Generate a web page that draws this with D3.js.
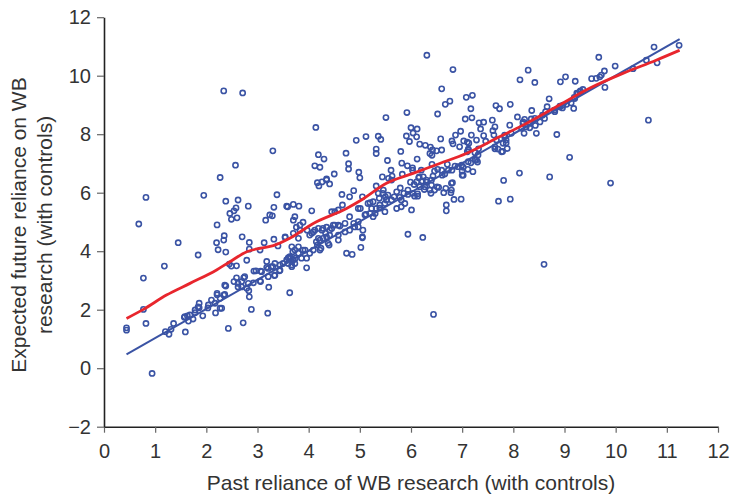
<!DOCTYPE html>
<html lang="en">
<head>
    <meta charset="UTF-8">
    <title>Past vs expected reliance on WB research</title>
    <script src="https://d3js.org/d3.v7.min.js"></script>
    <style>
        body { margin: 0; background: #fff; }
        .tick text { font-family: "Liberation Sans", Arial, sans-serif; font-size: 20px; fill: #333; }
        .axis-title { font-family: "Liberation Sans", Arial, sans-serif; font-size: 21px; fill: #333; }
    </style>
</head>
<body>
<script>
    // scatter points: [past reliance, expected future reliance]
    const points = [
        [0.44,1.38],[0.44,1.30],[0.82,5.84],[0.68,4.93],[0.77,3.08],[0.77,2.01],[0.82,1.53],[0.94,-0.18],[1.45,4.29],[1.18,3.49],
        [1.20,1.25],[1.27,1.16],[1.31,1.33],[1.36,1.53],[1.59,1.24],[1.57,1.74],[1.63,1.79],[1.65,1.61],[1.74,1.68],[1.78,1.90],
        [1.84,3.87],[1.86,2.22],[1.86,2.07],[1.93,1.79],[1.95,5.91],[2.03,2.06],[2.18,1.89],[2.21,2.51],[2.21,4.90],[2.20,4.29],
        [2.23,4.05],[2.30,2.05],[2.34,4.38],[2.35,4.53],[2.36,2.52],[2.38,2.81],[2.38,5.71],[2.38,3.97],[2.43,1.36],[2.45,3.56],
        [2.46,5.29],[2.49,5.09],[2.54,5.38],[2.58,5.48],[2.60,5.14],[2.62,5.75],[2.59,3.50],[2.59,3.09],[2.54,2.96],[2.62,2.90],
        [2.70,4.49],[2.72,1.55],[2.73,3.09],[2.69,2.78],[2.79,3.69],[2.82,5.54],[2.83,2.65],[2.84,2.44],[2.84,4.30],[2.84,4.07],
        [2.88,2.01],[2.92,2.92],[2.93,3.32],[3.06,3.32],[3.06,2.96],[3.05,4.04],[3.13,4.29],[3.16,5.06],[3.18,3.65],[3.18,3.45],
        [3.20,1.88],[3.22,2.77],[3.24,5.24],[3.29,5.21],[3.30,3.47],[3.32,5.50],[3.33,3.17],[3.32,4.41],[3.38,5.93],[3.40,4.18],
        [3.43,3.33],[3.54,4.47],[3.59,5.52],[3.60,3.77],[3.63,2.58],
        [2.34,9.48],[2.71,9.41],[3.30,7.43],[2.57,6.94],[2.27,6.52],
        [4.14,8.23],[4.19,7.30],[4.30,7.15],[4.12,6.92],[4.22,6.87],[4.50,6.64],[4.35,6.47],[4.73,7.35],[4.78,6.99],[4.78,6.81],
        [4.93,7.79],[5.12,7.92],[5.36,7.93],[5.32,7.49],[5.32,7.34],[4.98,6.70],[5.00,6.51],
        [6.31,10.70],[6.82,10.21],[6.60,9.55],[6.67,9.02],[6.76,9.13],[7.08,9.26],[7.20,9.33],[7.17,8.87],[6.52,8.69],[7.06,8.52],
        [7.19,8.56],[7.66,8.98],[7.33,8.39],[7.42,8.41],[7.59,8.48],[7.36,8.18],[7.64,8.25],[5.51,8.57],[5.92,8.74],[5.41,7.82],
        [6.00,8.22],[6.12,8.18],[6.04,8.04],[5.91,7.94],[6.11,7.91],[5.97,7.75],[6.17,7.66],[6.28,7.62],[6.38,7.56],[6.50,7.43],
        [6.60,7.46],[6.41,7.28],[6.58,7.84],[6.80,7.77],[6.87,7.97],[6.97,8.10],[6.82,7.67],[7.03,7.77],[7.10,7.73],[7.18,7.97],
        [7.12,7.49],[7.32,7.50],[7.30,7.05],[7.42,7.95],[7.46,7.76],[6.12,7.15],[4.17,6.34],[4.26,6.37],[4.35,6.43],[4.41,6.30],
        [4.20,6.23],[5.54,7.10],[5.80,7.41],[5.82,7.01],[5.93,6.92],[6.03,6.85],[5.83,6.63],[5.61,6.77],[5.63,6.57],[5.44,6.54],
        [5.56,6.49],[5.32,6.23],[5.79,6.16],[5.99,6.36],[6.06,6.28],[6.15,6.51],[6.22,6.40],[6.30,6.36],[6.40,6.43],[6.46,6.74],
        [6.52,6.80],[6.41,6.97],[6.61,6.60],[6.71,6.97],[6.80,6.77],[6.92,6.89],[6.81,6.34],[7.00,6.74],[6.64,6.00],[6.78,6.00],
        [6.39,5.98],[6.26,6.11],[6.13,5.96],[5.94,5.94],[5.67,5.86],[5.50,5.86],[4.88,6.07],[4.65,5.94],[7.21,6.72],
        [3.44,3.35],[3.57,5.54],[3.70,5.60],[3.81,5.54],[3.73,5.18],[3.70,5.06],[3.89,4.99],[3.83,4.89],[4.06,5.38],[3.54,4.49],
        [3.70,4.61],[3.80,4.44],[3.67,4.15],[3.80,4.15],[3.89,4.04],[3.69,3.98],[3.63,3.76],[3.60,3.58],[3.73,3.58],[3.67,3.47],
        [3.96,3.43],[4.06,4.61],[4.12,4.72],[4.15,4.32],[4.19,4.44],[4.22,4.04],[4.28,4.78],[4.40,4.21],[4.41,4.55],[4.48,4.89],
        [4.58,4.38],[4.58,4.89],[4.74,3.93],[4.85,3.89],[4.71,4.95],[4.80,4.72],[4.88,4.95],[4.97,4.83],[5.02,4.13],[5.05,4.46],
        [4.97,5.46],[5.12,5.26],[5.20,5.66],[5.30,5.29],[5.39,5.47],[5.49,5.35],[5.52,5.75],[5.45,5.98],[5.72,5.46],[5.81,5.52],
        [5.78,5.84],[5.86,5.98],[5.94,4.58],[6.01,5.41],[6.07,5.88],[6.23,4.47],[6.44,1.84],[6.54,6.18],[6.69,5.58],[6.69,5.38],
        [6.79,6.32],[6.84,5.77],[6.98,5.78],[7.71,5.71],
        [9.67,10.63],[10.75,10.98],[11.24,11.04],[10.60,10.53],[10.81,10.44],[9.99,10.33],[10.34,10.24],[9.78,10.16],[9.53,9.90],[9.69,9.96],
        [8.29,10.19],[8.13,9.86],[8.42,9.77],[8.92,9.79],[9.02,9.96],[9.21,9.81],[8.70,9.21],[9.24,9.40],[9.30,9.45],[9.36,9.53],
        [9.19,9.26],[9.79,9.60],[7.73,8.87],[7.94,9.02],[8.36,8.81],[8.66,8.94],[8.63,8.77],[8.91,8.93],[8.96,8.90],[9.18,8.88],
        [8.81,8.77],[8.08,8.59],[8.22,8.51],[8.35,8.52],[8.19,8.37],[8.25,8.25],[8.32,8.22],[7.93,8.31],[8.43,8.30],[7.60,8.12],
        [7.62,7.97],[7.83,7.97],[8.21,8.03],[8.45,8.03],[8.85,7.99],[7.86,7.70],[7.64,7.50],[7.79,7.41],[7.88,7.51],[9.10,7.21],
        [10.64,8.48],[8.12,6.67],[8.71,6.54],[7.81,6.42],[9.90,6.33],[7.94,5.78],[8.60,3.55],
        [9.62,9.91],[9.72,10.02],[8.19,8.42],[8.32,8.37],[8.42,8.54],[8.16,8.20],[8.52,8.42],[8.61,8.54],[8.57,8.65],[8.80,8.82],
        [8.91,8.96],[8.97,8.99],[9.04,9.02],[9.13,9.07],[9.20,9.22],[9.26,9.39],[9.31,9.48],
        [6.95,7.57],[7.12,7.46],[7.25,7.37],[7.31,7.29],[7.67,7.80],[7.64,7.57],[7.70,7.49],[7.77,7.40],[7.80,7.69],[7.86,7.80],
        [7.83,7.91],[7.96,8.03],[6.99,6.94],[7.02,6.60],[7.12,7.06],[7.25,7.12],
        [6.42,7.46],[6.37,7.34],[7.13,7.69],[7.28,7.80],[7.10,7.40],[7.28,7.12],
        [6.03,6.77],[6.20,6.77],[6.16,6.54],[6.24,6.54],[6.30,6.43],[6.43,6.57],[6.60,6.77],[6.66,6.64],[6.73,6.77],[6.86,6.91],
        [7.02,6.87],[7.00,6.60],[7.11,6.80],[7.17,7.02],
        [6.11,6.37],[6.17,6.20],[6.27,6.20],[6.40,6.26],[6.46,6.09],[6.51,6.20],[6.68,6.15],[6.79,6.09],[6.37,6.09],
        [5.94,6.09],[6.03,5.98],[6.13,5.88],[5.81,5.75],[5.88,5.63],[5.72,6.03],
        [5.62,6.43],[5.46,6.09],[5.36,5.98],[5.55,5.92],[5.62,5.75],[5.49,5.63],[5.38,5.81],[5.26,5.69],[5.23,5.46],[5.39,5.58],
        [5.05,5.86],[5.01,5.46],[5.16,5.63],[5.10,5.24],[5.20,5.29],[5.32,5.46],[5.26,5.18],
        [4.80,5.86],[4.66,5.58],[4.97,5.01],[4.80,5.18],[4.61,4.86],[4.51,4.89],[4.45,4.78],[4.58,4.55],[4.71,4.66],[4.90,4.83],
        [5.05,4.49],[5.06,4.72],
        [3.76,4.82],[3.83,4.72],[3.97,4.72],[4.02,4.55],[4.09,4.66],[4.19,4.78],[4.26,4.72],[4.45,5.35],[4.51,5.35],[4.58,5.41],
        [4.41,4.72],[4.33,4.61],[4.35,4.82],
        [4.17,4.21],[4.22,4.38],[4.28,4.44],[4.35,4.49],[4.38,4.27],[4.24,4.10],[4.09,4.04],[4.02,3.93],[3.93,4.04],[3.96,3.76],
        [3.86,3.76],[3.80,3.93],[3.73,4.04],[3.63,3.81],[3.57,3.70],[3.70,3.70],[3.74,3.76],[3.67,3.53],[3.50,3.58],[3.44,3.53],
        [3.27,3.47],[3.34,3.58],[3.21,3.41],[3.08,3.30],[2.97,3.33],[3.21,3.13],[3.34,3.18],[3.05,2.98],[2.82,2.90],[2.69,2.96],
        [2.79,2.73],[2.75,3.13],[2.62,2.78],[2.49,3.49],[2.36,2.84],[2.34,2.50],[2.27,2.39],[2.21,2.56],[2.17,2.22],[2.10,2.33],
        [2.04,2.16],[1.84,2.10],[1.78,1.99],[1.68,1.82],[1.58,1.76],[2.27,2.05]
    ];

    // linear fit (blue) and smoothed fit (red)
    const fitX = [0.44, 11.25];
    const fitY = [0.47, 11.25];
    const smoothX = [0.44, 0.77, 1.22, 1.68, 2.20, 2.46, 2.79, 3.05, 3.31, 3.63, 4.09, 4.74, 5.03, 5.52,
                     6.04, 6.56, 7.08, 7.73, 8.19, 8.84, 9.49, 10.14, 10.79, 11.25];
    const smoothY = [1.70, 2.01, 2.50, 2.90, 3.36, 3.64, 3.98, 4.10, 4.19, 4.44, 4.95, 5.46, 5.75, 6.32,
                     6.66, 7.00, 7.34, 7.91, 8.31, 8.94, 9.57, 10.08, 10.53, 10.87];

    const xTicks = d3.range(0, 13, 1);
    const yTicks = d3.range(-2, 13, 2);

    const width = 730;
    const height = 498;

    const svg = d3.select("body")
        .append("svg")
        .attr("width", width)
        .attr("height", height);

    const x = d3.scaleLinear().domain([0, 12]).range([104, 718]);
    const y = d3.scaleLinear().domain([-2, 12]).range([426.7, 17.2]);

    // points
    svg.append("g")
        .selectAll("circle")
        .data(points)
        .enter()
        .append("circle")
        .attr("cx", d => x(d[0]))
        .attr("cy", d => y(d[1]))
        .attr("r", 2.6)
        .attr("fill", "none")
        .attr("stroke", "#3a53a4")
        .attr("stroke-width", 1.6);

    const line = d3.line()
        .x(d => x(d[0]))
        .y(d => y(d[1]));

    svg.append("path")
        .datum(fitX.map((v, i) => [v, fitY[i]]))
        .attr("d", line)
        .attr("fill", "none")
        .attr("stroke", "#3a53a4")
        .attr("stroke-width", 2);

    svg.append("path")
        .datum(smoothX.map((v, i) => [v, smoothY[i]]))
        .attr("d", d3.line().curve(d3.curveMonotoneX).x(d => x(d[0])).y(d => y(d[1])))
        .attr("fill", "none")
        .attr("stroke", "#e8262d")
        .attr("stroke-width", 2.8);

    // axes
    const xAxis = svg.append("g")
        .attr("transform", `translate(0,${y(-2)})`)
        .call(d3.axisBottom(x).tickValues(xTicks).tickSize(6).tickSizeOuter(0).tickPadding(11));

    const yAxis = svg.append("g")
        .attr("transform", `translate(${x(0)},0)`)
        .call(d3.axisLeft(y).tickValues(yTicks).tickSize(7).tickSizeOuter(0).tickPadding(6));

    [xAxis, yAxis].forEach(g => {
        g.select(".domain").attr("stroke", "#222").attr("stroke-width", 1.6);
        g.selectAll(".tick line").attr("stroke", "#666").attr("stroke-width", 1.2);
    });

    svg.append("text")
        .attr("class", "axis-title")
        .attr("x", 411)
        .attr("y", 490)
        .attr("text-anchor", "middle")
        .text("Past reliance of WB research (with controls)");

    const yTitle = svg.append("text")
        .attr("class", "axis-title")
        .attr("transform", "translate(0,225) rotate(-90)")
        .attr("text-anchor", "middle");
    yTitle.append("tspan").attr("x", 0).attr("y", 26).text("Expected future reliance on WB");
    yTitle.append("tspan").attr("x", 0).attr("y", 52).text("research (with controls)");
</script>
</body>
</html>
